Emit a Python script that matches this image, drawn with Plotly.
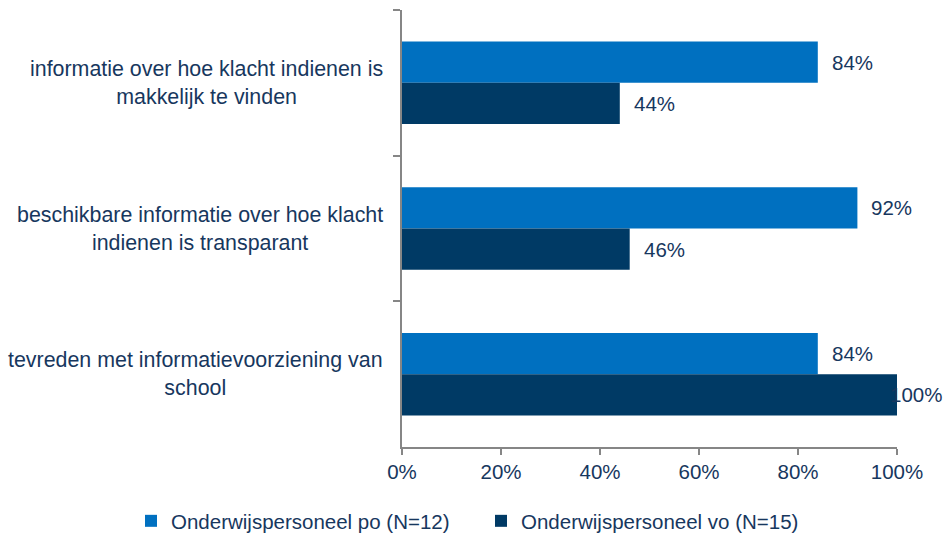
import plotly.graph_objects as go

categories = [
    "informatie over hoe klacht indienen is<br>makkelijk te vinden",
    "beschikbare informatie over hoe klacht<br>indienen is transparant",
    "tevreden met informatievoorziening van<br>school",
]
series_names = ["Onderwijspersoneel po (N=12)", "Onderwijspersoneel vo (N=15)"]
po_values = [0.84, 0.92, 0.84]
vo_values = [0.44, 0.46, 1.00]
x_ticks = [0, 0.2, 0.4, 0.6, 0.8, 1.0]

colors = ["#0070C0", "#003A65"]
text_color = "#17375E"
axis_color = "#868686"
font_family = "Liberation Sans, Arial, sans-serif"
bargap = 0.434

fig = go.Figure()
for name, vals, col in zip(series_names, [po_values, vo_values], colors):
    fig.add_trace(go.Bar(
        y=categories, x=vals, name=name, orientation="h",
        marker=dict(color=col, line=dict(width=0)),
        hoverinfo="x+name",
    ))

# data labels
offset = (1 - bargap) / 4
for s, vals in enumerate([po_values, vo_values]):
    sign = -1 if s == 0 else 1
    for i, v in enumerate(vals):
        fig.add_annotation(
            x=v, y=i + sign * offset, xref="x", yref="y",
            text=f"{v*100:.0f}%", showarrow=False,
            xanchor="left", yanchor="middle",
            xshift=12 if v < 0.99 else -9,
            font=dict(family=font_family, size=20.5, color=text_color),
        )

# category labels (centered lines, right-aligned block)
for i, c in enumerate(categories):
    fig.add_annotation(
        x=0, y=i, xref="paper", yref="y", text=c, showarrow=False,
        xanchor="right", yanchor="middle", align="center", xshift=-17,
        font=dict(family=font_family, size=21.4, color=text_color),
    )

fig.update_layout(
    width=946, height=533,
    margin=dict(l=402, r=49, t=10, b=86, autoexpand=False),
    paper_bgcolor="white", plot_bgcolor="white",
    barmode="group", bargap=bargap, bargroupgap=0,
    font=dict(family=font_family, size=20.5, color=text_color),
    showlegend=True,
    legend=dict(
        orientation="h", xref="paper", yref="paper",
        x=(131 - 402) / 495, y=-(521 - 447) / 437,
        xanchor="left", yanchor="middle",
        font=dict(family=font_family, size=20.5, color=text_color),
        entrywidth=305, entrywidthmode="pixels",
        traceorder="normal",
    ),
    xaxis=dict(
        range=[0, 1], tickvals=x_ticks, tickformat=".0%",
        showgrid=False, zeroline=False,
        showline=True, linecolor=axis_color, linewidth=1.5,
        ticks="outside", ticklen=6, tickcolor=axis_color, tickwidth=1.5,
        tickfont=dict(family=font_family, size=20.5, color=text_color),
        fixedrange=True,
    ),
    yaxis=dict(
        type="category", categoryorder="array", categoryarray=categories,
        autorange="reversed", tickson="boundaries", showticklabels=False,
        showgrid=False, zeroline=False,
        showline=True, linecolor=axis_color, linewidth=1.5,
        ticks="outside", ticklen=7, tickcolor=axis_color, tickwidth=1.5,
        fixedrange=True,
    ),
)

fig.write_html("out.html", config={"displayModeBar": False},
               post_script="document.body.style.margin='0';")
